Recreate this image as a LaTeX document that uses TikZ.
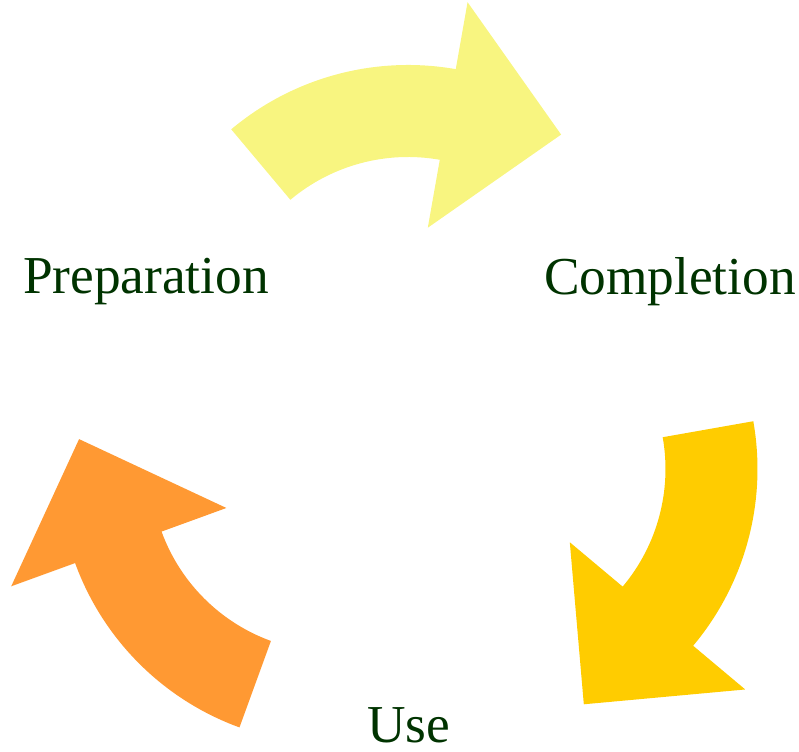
\documentclass[tikz,border=0pt]{standalone}
\usepackage{fontspec}
\setmainfont{Liberation Serif}
\usepackage{tikz}
\usepackage{xcolor}
\definecolor{paleyellow}{RGB}{248,245,128}
\definecolor{goldyellow}{RGB}{255,204,0}
\definecolor{lightorange}{RGB}{255,153,51}
\definecolor{darkgreen}{RGB}{0,51,0}
\tikzstyle{stage} = [font=\fontsize{40}{48}\selectfont, text=darkgreen, inner sep=0pt, anchor=base]
\tikzstyle{cycarrow} = [draw=none]

\begin{document}
\begin{tikzpicture}[x=0.75pt, y=0.75pt]
\useasboundingbox (0,0) rectangle (799,752);

% centre of the cycle
\coordinate (mid) at (408,326);

% Preparation -> Completion
\begin{scope}[shift={(mid)}, shift={(90:86)}]
\fill[cycarrow, paleyellow] (130:275) arc[start angle=130, end angle=80, radius=275]
    -- (80:343) -- (53.3:256.2) -- (80:114)
    -- (80:183) arc[start angle=80, end angle=130, radius=183] -- cycle;
\end{scope}

% Completion -> Use
\begin{scope}[shift={(mid)}, shift={(-30:86)}, rotate=-120]
\fill[cycarrow, goldyellow] (130:275) arc[start angle=130, end angle=80, radius=275]
    -- (80:343) -- (53.3:256.2) -- (80:114)
    -- (80:183) arc[start angle=80, end angle=130, radius=183] -- cycle;
\end{scope}

% Use -> Preparation
\begin{scope}[shift={(mid)}, shift={(210:86)}, rotate=120]
\fill[cycarrow, lightorange] (130:275) arc[start angle=130, end angle=80, radius=275]
    -- (80:343) -- (53.3:256.2) -- (80:114)
    -- (80:183) arc[start angle=80, end angle=130, radius=183] -- cycle;
\end{scope}

\node[stage] (prep) at (146,458) {Preparation};
\node[stage] (compl) at (670,457) {Completion};
\node[stage, text depth=0pt] (use) at (408.5,9) {Use};
\end{tikzpicture}
\end{document}
